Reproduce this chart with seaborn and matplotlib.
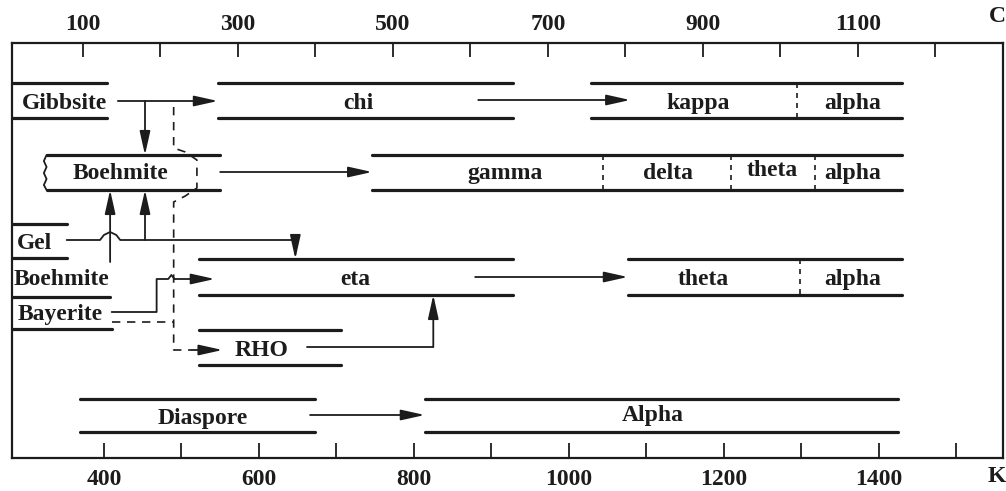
import matplotlib
matplotlib.use("Agg")
import matplotlib.pyplot as plt
import numpy as np
import pandas as pd
import seaborn as sns

# ---------------- data (temperatures in deg C) ----------------
band_names = ["Gibbsite", "chi", "kappa-alpha", "Boehmite", "gamma-alpha", "Gel",
              "Boehmite2", "Bayerite", "eta", "theta-alpha", "RHO", "Diaspore", "Alpha"]
band_row = ["r1", "r1", "r1", "r2", "r2", "gel", "boe2", "bay", "eta", "eta", "rho", "dia", "dia"]
band_start = [8, 274, 755, 53, 473, 8, 8, 8, 250, 803, 250, 96, 541]
band_end = [131, 655, 1157, 277, 1157, 79, 135, 137, 655, 1157, 433, 399, 1152]
band_edges = ["both", "both", "both", "both", "both", "both",
              "bottom", "bottom", "both", "both", "both", "both", "both"]

sep_row = ["r1", "r2", "r2", "r2", "eta"]
sep_temp = [1021, 771, 936, 1045, 1025]

label_text = ["Gibbsite", "chi", "kappa", "alpha", "Boehmite", "gamma", "delta", "theta",
              "alpha", "Gel", "Boehmite", "Bayerite", "eta", "theta", "alpha", "RHO",
              "Diaspore", "Alpha"]
label_temp = [76, 455, 894, 1093, 148, 644, 855, 990, 1093, 38, 72, 70, 451, 900, 1093,
              331, 254, 835]
label_row = ["r1", "r1", "r1", "r1", "r2", "r2", "r2", "r2", "r2", "gel", "boe2", "bay",
             "eta", "eta", "eta", "rho", "dia", "dia"]

celsius_ticks = list(range(100, 1300, 100))
celsius_labels = [str(t) if t % 200 == 100 else "" for t in celsius_ticks]
kelvin_ticks = list(range(400, 1600, 100))
kelvin_labels = [str(t) if t % 200 == 0 else "" for t in kelvin_ticks]

# ---------------- layout (vertical positions, axis pixel rows) ----------------
row_top = {"r1": 83, "r2": 155, "gel": 224, "boe2": 258, "bay": 297, "eta": 259,
           "rho": 330, "dia": 399}
row_bot = {"r1": 118, "r2": 190, "gel": 258, "boe2": 297, "bay": 329, "eta": 295,
           "rho": 365, "dia": 432}
row_mid = {"r1": 101, "r2": 171, "gel": 241, "boe2": 277, "bay": 312, "eta": 277,
           "rho": 348, "dia": 416}

INK = "#1c1c1c"
FONT = "Liberation Serif"
FS = 17

sns.set_style("white")
plt.rcParams["font.family"] = [FONT, "DejaVu Serif"]
plt.rcParams["font.weight"] = "bold"

fig = plt.figure(figsize=(10.06, 4.91), dpi=100)
ax = fig.add_axes([12 / 1006, 1 - 458 / 491, (1003 - 12) / 1006, (458 - 43) / 491])

# band edge lines via seaborn
recs = []
seg = 0
for name, r, s, e, edg in zip(band_names, band_row, band_start, band_end, band_edges):
    ys = [row_top[r], row_bot[r]] if edg == "both" else [row_bot[r]]
    for y in ys:
        recs.append({"x": s, "y": y, "seg": seg})
        recs.append({"x": e, "y": y, "seg": seg})
        seg += 1
df = pd.DataFrame(recs)
sns.lineplot(data=df, x="x", y="y", units="seg", estimator=None, sort=False,
             color=INK, lw=2.3, ax=ax, legend=False)

# dashed separators inside bands
for r, t in zip(sep_row, sep_temp):
    ax.plot([t, t], [row_top[r], row_bot[r]], color=INK, lw=1.2, ls=(0, (3, 3)))

# labels
for txt, t, r in zip(label_text, label_temp, label_row):
    dy = -3 if (txt == "theta" and r == "r2") else 0
    if r == "dia" and txt == "Alpha":
        dy = -3
    ax.text(t, row_mid[r] + dy, txt, ha="center", va="center_baseline",
            fontsize=FS, fontweight="bold", color=INK, family=FONT)

AP = dict(arrowstyle="-|>,head_length=0.9,head_width=0.2", color=INK, lw=1.3,
          shrinkA=0, shrinkB=0, mutation_scale=16)


def arrow(p0, p1):
    ax.annotate("", xy=p1, xytext=p0, arrowprops=AP)


# straight transformation arrows
arrow((145, 101), (274, 101))      # gibbsite -> chi
arrow((610, 100), (806, 100))      # chi -> kappa
arrow((277, 172), (473, 172))      # boehmite -> gamma
arrow((606, 277), (803, 277))      # eta -> theta
arrow((393, 415), (541, 415))      # diaspore -> alpha
arrow((180, 101), (180, 155))      # gibbsite -> boehmite
arrow((135, 262), (135, 190))      # boehmite(2) -> boehmite
arrow((180, 240), (180, 190))      # gel -> boehmite

# gel -> eta with hump over vertical line
gx = [79, 122, 127, 135, 143, 148, 374]
gy = [240, 240, 235, 232, 235, 240, 240]
ax.plot(gx, gy, color=INK, lw=1.3)
arrow((374, 240), (374, 259))

# bayerite -> eta (elbow)
ax.plot([137, 195, 195, 210, 214, 218], [312, 312, 279, 279, 275, 279], color=INK, lw=1.3)
arrow((218, 279), (270, 279))

# RHO -> eta
ax.plot([389, 552], [347, 347], color=INK, lw=1.3)
arrow((552, 347), (552, 295))

# dashed route gibbsite -> RHO
dx = [217, 217, 232, 247, 247, 232, 217, 217, 240]
dyv = [107, 148, 152, 160, 188, 196, 202, 350, 350]
ax.plot(dx, dyv, color=INK, lw=1.2, ls=(0, (5, 4)))
arrow((240, 350), (280, 350))
# bayerite dashed
ax.plot([137, 216], [322, 322], color=INK, lw=1.2, ls=(0, (5, 4)))

# wavy left edge of boehmite
ax.plot([53, 49.5, 53, 49.5, 53, 49.5, 53], [155, 161, 167, 173, 179, 185, 190],
        color=INK, lw=1.3)
# small tail on gel top line
ax.plot([79, 80], [223, 223], color=INK, lw=2)

# axes
ax.set_xlim(8.4, 1287.1)
ax.set_ylim(458, 43)
ax.set_xlabel("")
ax.set_ylabel("")
ax.set_yticks([])
ax.xaxis.tick_top()
ax.set_xticks(celsius_ticks)
ax.set_xticklabels(celsius_labels, fontsize=FS, fontweight="bold", family=FONT, color=INK)
ax.tick_params(axis="x", direction="in", length=10, width=1.3, color=INK, pad=6,
               top=True, bottom=False)
for sp in ax.spines.values():
    sp.set_visible(True)
    sp.set_color(INK)
    sp.set_linewidth(1.6)

sec = ax.secondary_xaxis("bottom", functions=(lambda c: c + 273, lambda k: k - 273))
sec.set_xticks(kelvin_ticks)
sec.set_xticklabels(kelvin_labels, fontsize=FS, fontweight="bold", family=FONT, color=INK)
sec.tick_params(direction="in", length=11, width=1.3, color=INK, pad=8)
sec.spines["bottom"].set_visible(False)

fig.text(997 / 1006, 1 - 17 / 491, "C", ha="center", va="center", fontsize=FS,
         fontweight="bold", family=FONT, color=INK)
fig.text(997 / 1006, 1 - 476 / 491, "K", ha="center", va="center", fontsize=FS,
         fontweight="bold", family=FONT, color=INK)

fig.savefig("out.png", dpi=100)
